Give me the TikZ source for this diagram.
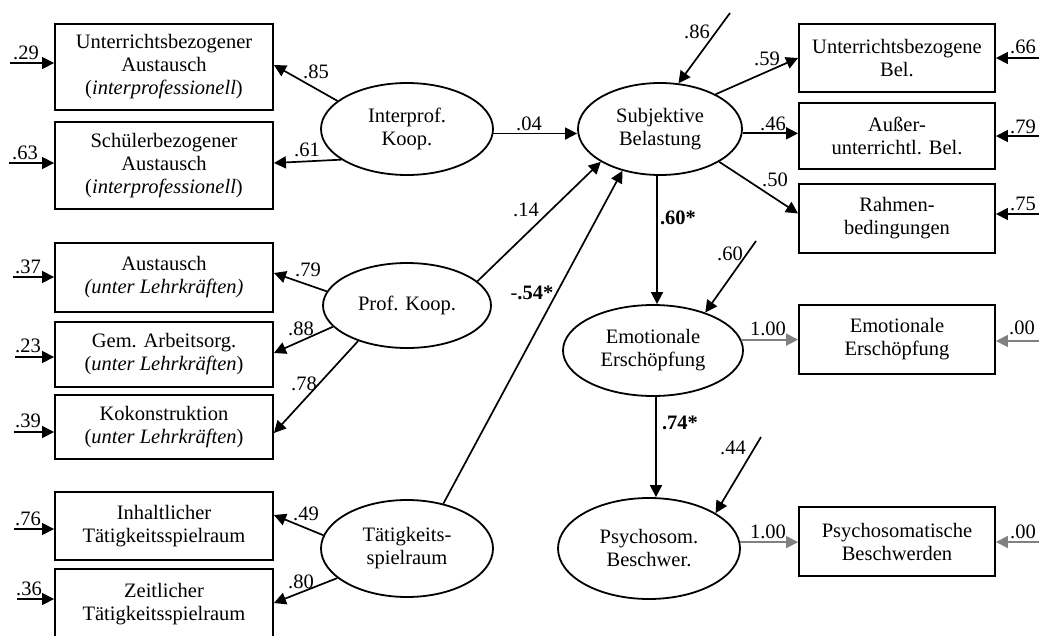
\documentclass[tikz,border=0pt]{standalone}
\usepackage{fontspec}
\setmainfont{Liberation Serif}
\usetikzlibrary{shapes.geometric,arrows.meta}
\definecolor{linkgray}{RGB}{128,128,128}
\begin{document}
\begin{tikzpicture}[x=1pt,y=-1pt,
  font=\fontsize{20.5}{23}\selectfont,
  indicator/.style={draw,line width=1.9pt,rectangle,align=center,inner sep=0pt,minimum width=218pt},
  outcome/.style={draw,line width=1.9pt,rectangle,align=center,inner sep=0pt,minimum width=196pt},
  latent/.style={draw,line width=1.8pt,ellipse,align=center,inner sep=0pt},
  link/.style={line width=1.7pt,-{Triangle[length=12pt,width=12pt]}},
  glink/.style={link,draw=linkgray},
  coef/.style={inner sep=0pt}]
\useasboundingbox (0,0) rectangle (1039,635);

% indicators of the exogenous factors
\node[indicator,minimum height=86pt] (b1) at (164,67) {Unterrichtsbezogener\\Austausch\\(\textit{interprofessionell})};
\node[indicator,minimum height=87pt] (b2) at (164,165.5) {Schülerbezogener\\Austausch\\(\textit{interprofessionell})};
\node[indicator,minimum height=69pt] (b3) at (164,277.5) {Austausch\\\textit{(unter Lehrkräften)}};
\node[indicator,minimum height=65pt] (b4) at (164,354.5) {Gem. Arbeitsorg.\\(\textit{unter Lehrkräften})};
\node[indicator,minimum height=64pt] (b5) at (164,427) {Kokonstruktion\\(\textit{unter Lehrkräften})};
\node[indicator,minimum height=68pt] (b6) at (164,526) {Inhaltlicher\\Tätigkeitsspielraum};
\node[indicator,minimum height=71pt] (b7) at (164,604.5) {Zeitlicher\\Tätigkeitsspielraum};

% indicators of the endogenous factors
\node[outcome,minimum height=68pt] (r1) at (897,58) {Unterrichtsbezogene\\Bel.};
\node[outcome,minimum height=66pt] (r2) at (897,136) {Außer-\\unterrichtl. Bel.};
\node[outcome,minimum height=69pt] (r3) at (897,218.5) {Rahmen-\\bedingungen};
\node[outcome,minimum height=69pt] (r4) at (897,339.5) {Emotionale\\Erschöpfung};
\node[outcome,minimum height=69pt] (r5) at (897,541.5) {Psychosomatische\\Beschwerden};

% latent factors
\node[latent,minimum width=172pt,minimum height=92pt] (IK) at (407,129) {Interprof.\\Koop.};
\node[latent,minimum width=168pt,minimum height=85pt] (PK) at (407,305.5) {Prof. Koop.};
\node[latent,minimum width=172pt,minimum height=97pt] (TS) at (407,548.5) {Tätigkeits-\\spielraum};
\node[latent,minimum width=164pt,minimum height=92pt] (SB) at (660,129) {Subjektive\\Belastung};
\node[latent,minimum width=180pt,minimum height=91pt] (EE) at (653,350.5) {Emotionale\\Erschöpfung};
\node[latent,minimum width=182pt,minimum height=101pt] (PB) at (649,548.5) {Psychosom.\\Beschwer.};

% loadings of the exogenous factors
\draw[link] (IK.158) -- ([yshift=2pt]b1.east);
\draw[link] (IK.205) -- ([yshift=2.5pt]b2.east);
\draw[link] (PK.170.4) -- ([yshift=4.5pt]b3.east);
\draw[link] (PK.196.2) -- ([yshift=1.5pt]b4.east);
\draw[link] (PK.216.7) -- ([yshift=-6pt]b5.east);
\draw[link] (TS.171.6) -- ([yshift=11pt]b6.east);
\draw[link] (TS.203.1) -- ([yshift=1.5pt]b7.east);
\node[coef] (c85) at (316,72) {.85};
\node[coef] (c61) at (307,150) {.61};
\node[coef] (c79) at (308,270) {.79};
\node[coef] (c88) at (301,329) {.88};
\node[coef] (c78) at (304,384) {.78};
\node[coef] (c49) at (306,514) {.49};
\node[coef] (c80) at (301,582) {.80};

% residuals of the left indicators
\coordinate (eb1) at (10,63);
\coordinate (eb2) at (9,163);
\coordinate (eb3) at (13,277);
\coordinate (eb4) at (15,357);
\coordinate (eb5) at (14,432);
\coordinate (eb6) at (14,529);
\coordinate (eb7) at (17,599);
\draw[link] (eb1) -- (eb1 -| b1.west);
\draw[link] (eb2) -- (eb2 -| b2.west);
\draw[link] (eb3) -- (eb3 -| b3.west);
\draw[link] (eb4) -- (eb4 -| b4.west);
\draw[link] (eb5) -- (eb5 -| b5.west);
\draw[link] (eb6) -- (eb6 -| b6.west);
\draw[link] (eb7) -- (eb7 -| b7.west);
\node[coef] (c29) at (26,53) {.29};
\node[coef] (c63) at (25,153) {.63};
\node[coef] (c37) at (28,267) {.37};
\node[coef] (c23) at (28,346) {.23};
\node[coef] (c39) at (28,421) {.39};
\node[coef] (c76) at (28,519) {.76};
\node[coef] (c36) at (29,589) {.36};

% structural paths
\draw[link] (IK.-3) -- (IK.-3 -| SB.west);
\draw[link] (PK.19.8) -- (SB.209.5);
\draw[link] (TS.51.5) -- (SB.228.5);
\draw[link] ([xshift=-3pt]SB.south) -- ([xshift=-3pt]SB.south |- EE.north);
\draw[link] ([xshift=3pt]EE.south) -- ([xshift=3pt]EE.south |- PB.north);
\node[coef] (c04) at (529,124) {.04};
\node[coef] (c14) at (526,210) {.14};
\node[coef] (c54) at (532,293) {-\textbf{.54*}};
\node[coef] (c60s) at (678,218) {\textbf{.60*}};
\node[coef] (c74s) at (680,423) {\textbf{.74*}};

% disturbances of the endogenous factors
\coordinate (dSB) at (730,13);
\coordinate (dEE) at (756,241);
\coordinate (dPB) at (761,437);
\draw[link] (dSB) -- (SB.68.6);
\draw[link] (dEE) -- (EE.36.4);
\draw[link] (dPB) -- (PB.28.2);
\node[coef] (c86) at (697,32) {.86};
\node[coef] (c60) at (730,254) {.60};
\node[coef] (c44) at (733,448) {.44};

% loadings of the endogenous factors
\draw[link] (SB.32.7) -- (r1.west);
\draw[link] (SB.-3) -- (SB.-3 -| r2.west);
\draw[link] (SB.-29.5) -- ([yshift=5pt]r3.west);
\draw[glink] (EE.7) -- (EE.7 -| r4.west);
\draw[glink] (PB.4) -- (PB.4 -| r5.west);
\node[coef] (c59) at (767,59) {.59};
\node[coef] (c46) at (773,124) {.46};
\node[coef] (c50) at (775,180) {.50};
\node[coef] (c100a) at (768,329) {1.00};
\node[coef] (c100b) at (768,532) {1.00};

% residuals of the right indicators
\coordinate (er1) at (1039,58);
\coordinate (er2) at (1039,136);
\coordinate (er3) at (1039,214);
\coordinate (er4) at (1039,341);
\coordinate (er5) at (1039,542);
\draw[link] (er1) -- (er1 -| r1.east);
\draw[link] (er2) -- (er2 -| r2.east);
\draw[link] (er3) -- (er3 -| r3.east);
\draw[glink] (er4) -- (er4 -| r4.east);
\draw[glink] (er5) -- (er5 -| r5.east);
\node[coef] (c66) at (1023,47) {.66};
\node[coef] (c79r) at (1023,127) {.79};
\node[coef] (c75) at (1023,204) {.75};
\node[coef] (c00a) at (1022,328) {.00};
\node[coef] (c00b) at (1023,532) {.00};
\end{tikzpicture}
\end{document}
